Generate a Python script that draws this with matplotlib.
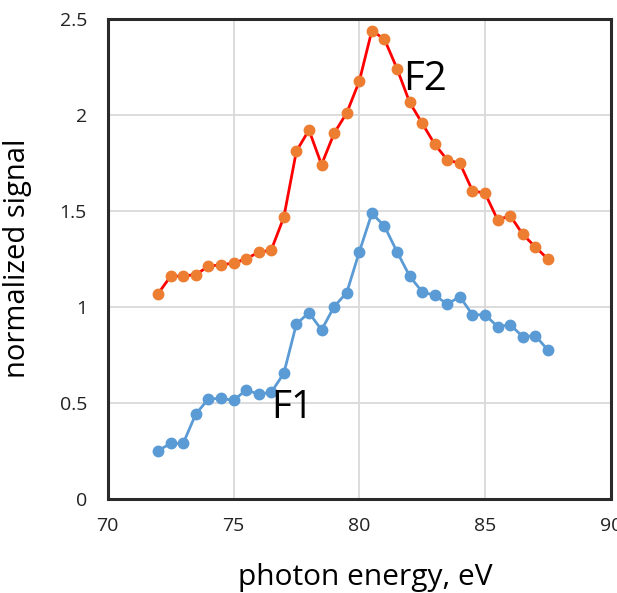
import matplotlib
matplotlib.use("Agg")
import matplotlib.pyplot as plt

plt.rcParams['font.family'] = ['Open Sans', 'DejaVu Sans']

energy = [72, 72.5, 73, 73.5, 74, 74.5, 75, 75.5, 76, 76.5, 77, 77.5, 78, 78.5,
          79, 79.5, 80, 80.5, 81, 81.5, 82, 82.5, 83, 83.5, 84, 84.5, 85, 85.5,
          86, 86.5, 87, 87.5]
f1 = [0.25, 0.288, 0.288, 0.441, 0.519, 0.523, 0.512, 0.566, 0.545, 0.554, 0.653,
      0.910, 0.969, 0.879, 1.000, 1.073, 1.285, 1.486, 1.420, 1.286, 1.160, 1.077,
      1.059, 1.014, 1.052, 0.958, 0.958, 0.896, 0.906, 0.844, 0.849, 0.774]
f2 = [1.068, 1.158, 1.160, 1.167, 1.210, 1.219, 1.226, 1.250, 1.283, 1.295, 1.466,
      1.810, 1.920, 1.740, 1.903, 2.009, 2.174, 2.438, 2.393, 2.240, 2.065, 1.955,
      1.846, 1.764, 1.747, 1.604, 1.591, 1.452, 1.474, 1.377, 1.311, 1.248]
xticks = [70, 75, 80, 85, 90]
yticks = [0, 0.5, 1, 1.5, 2, 2.5]
ytick_labels = ['0', '0.5', '1', '1.5', '2', '2.5']

fig = plt.figure(figsize=(6.17, 5.93), dpi=100)
ax = fig.add_axes([0.1746, 0.159, 0.8154, 0.8095])

ax.plot(energy, f1, color='#5B9BD5', lw=2, marker='o', markersize=7.5,
        markerfacecolor='#5B9BD5', markeredgecolor='#5B9BD5', zorder=3)
ax.plot(energy, f2, color='#FF0000', lw=2, marker='o', markersize=7.5,
        markerfacecolor='#ED7D31', markeredgecolor='#ED7D31', zorder=3)

ax.set_xlim(70, 90)
ax.set_ylim(0, 2.5)
ax.set_xticks(xticks)
ax.set_yticks(yticks)
ax.set_yticklabels(ytick_labels)
ax.tick_params(length=0, labelsize=14, labelcolor='#222222')
ax.tick_params(axis='x', pad=13)
ax.tick_params(axis='y', pad=15)
ax.grid(True, color='#d9d9d9', lw=1.3)
ax.set_axisbelow(True)
for s in ax.spines.values():
    s.set_color('#2a2a2a')
    s.set_linewidth(2.2)

ax.set_xlabel('photon energy, eV', fontsize=21.5, labelpad=20)
ax.xaxis.label.set_x(0.511)
ax.set_ylabel('normalized signal', fontsize=21)
ax.yaxis.set_label_coords(-0.15, 0.5)

ax.text(81.75, 2.18, 'F2', fontsize=29, va='center', ha='left')
ax.text(76.5, 0.475, 'F1', fontsize=28, va='center', ha='left')

fig.savefig('out.png', dpi=100)
